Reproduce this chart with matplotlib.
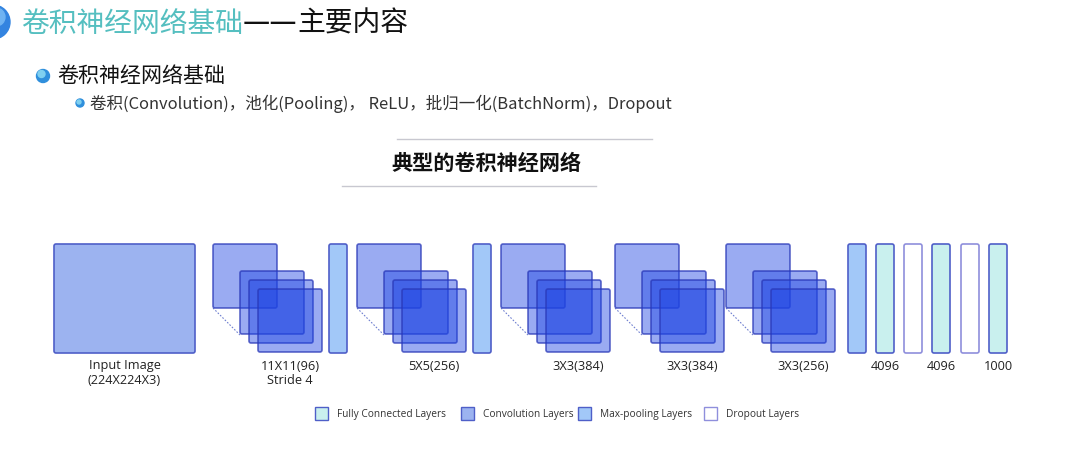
import matplotlib
matplotlib.use("Agg")
import matplotlib.pyplot as plt
from matplotlib.patches import FancyBboxPatch, Rectangle, Circle

plt.rcParams["font.family"] = ["Noto Sans CJK SC", "DejaVu Sans"]

# ---- texts ----
title_main = "卷积神经网络基础"
title_dash = "——"
title_rest = "主要内容"
bullet_1 = "卷积神经网络基础"
bullet_2 = "卷积(Convolution)，池化(Pooling)， ReLU，批归一化(BatchNorm)，Dropout"
subtitle = "典型的卷积神经网络"

# ---- network layers ----
layer_kinds = ["input", "conv", "pool", "conv", "pool", "conv", "conv", "conv",
               "pool", "fc", "dropout", "fc", "dropout", "fc"]
layer_labels = ["Input Image\n(224X224X3)", "11X11(96)\nStride 4", "", "5X5(256)", "",
                "3X3(384)", "3X3(384)", "3X3(256)", "", "4096", "", "4096", "", "1000"]

legend_kinds = ["fc", "conv", "pool", "dropout"]
legend_names = ["Fully Connected Layers", "Convolution Layers",
                "Max-pooling Layers", "Dropout Layers"]

# ---- styles ----
EDGE = "#4f5fc8"
styles = {
    "input": dict(fc="#9cb3f0", ec=EDGE),
    "conv": dict(fc=(0.12, 0.27, 0.89, 0.45), ec=(0.16, 0.22, 0.72, 0.75)),
    "pool": dict(fc="#a2c8f8", ec=EDGE),
    "fc": dict(fc="#c9f0ee", ec=EDGE),
    "dropout": dict(fc="white", ec="#8f8fdc"),
}
conv_offsets = [0, 27, 36, 45]

# layout (pixel space)
W, H = 1066, 466
layer_x = [54, 213, 329, 357, 473, 501, 615, 726, 848, 876, 904, 932, 961, 989]
top, bottom = 244, 353

fig = plt.figure(figsize=(W / 100, H / 100), dpi=100)
ax = fig.add_axes([0, 0, 1, 1])
ax.set_xlim(0, W)
ax.set_ylim(H, 0)
ax.axis("off")
inv = ax.transData.inverted()


def rbox(x, y, w, h, kind, z=2):
    st = styles[kind]
    ax.add_patch(FancyBboxPatch((x, y), w, h, boxstyle="round,pad=0,rounding_size=2",
                                facecolor=st["fc"], edgecolor=st["ec"], linewidth=1.2, zorder=z))


def right_edge(t):
    fig.canvas.draw()
    return t.get_window_extent().transformed(inv).x1


# header
ax.add_patch(Circle((-7, 22), 17, color="#3384e0", zorder=3))
ax.add_patch(Circle((-4, 17), 9, color="#6fb3f2", zorder=3))
t = ax.text(21, 24, title_main, fontsize=20, color="#55bfc0", va="center", ha="left")
t = ax.text(right_edge(t), 24, title_dash, fontsize=22, color="#111111", va="center", ha="left")
ax.text(right_edge(t), 24, title_rest, fontsize=20, color="#111111", va="center", ha="left")

ax.add_patch(Circle((43, 76), 6.5, color="#2f8fdc", zorder=3))
ax.add_patch(Circle((41.5, 74), 3.5, color="#7fd0f0", zorder=3))
ax.text(57, 76, bullet_1, fontsize=15.1, color="#111111", va="center", ha="left")

ax.add_patch(Circle((80, 103), 4, color="#2f8fdc", zorder=3))
ax.add_patch(Circle((79, 102), 2, color="#7fd0f0", zorder=3))
ax.text(90, 104, bullet_2, fontsize=11.9, color="#333333", va="center", ha="left")

ax.plot([397, 652], [139, 139], color="#c8c8d0", lw=1)
ax.text(486, 163, subtitle, fontsize=15.2, fontweight="bold", color="#111111",
        va="center", ha="center")
ax.plot([342, 596], [186, 186], color="#c8c8d0", lw=1)

# network diagram
for kind, label, x in zip(layer_kinds, layer_labels, layer_x):
    if kind == "input":
        w = 141
        rbox(x, top, w, bottom - top, kind)
        cx = x + w / 2
    elif kind == "conv":
        s = 64
        for i, off in enumerate(conv_offsets):
            rbox(x + off, top + off, s, s - (1 if i else 0), kind, z=2 + i)
        ax.plot([x, x + conv_offsets[1]], [top + s, top + s + conv_offsets[1]],
                color="#7080d0", lw=0.8, ls=(0, (1.5, 1.5)), zorder=1)
        cx = x + conv_offsets[-1] + s / 2
    else:
        w = 18
        rbox(x, top, w, bottom - top, kind)
        cx = x + w / 2
    for j, line in enumerate(label.split("\n")):
        if line:
            ax.text(cx, 366 + 14 * j, line, fontsize=9.2, color="#222222",
                    ha="center", va="center", family=["Open Sans", "DejaVu Sans"])

# legend
legend_x = [315, 461, 578, 704]
for kind, name, x in zip(legend_kinds, legend_names, legend_x):
    st = styles[kind]
    fcol = "#9cb3f0" if kind == "conv" else st["fc"]
    ax.add_patch(Rectangle((x, 407), 13, 13, facecolor=fcol, edgecolor=EDGE if kind != "dropout" else st["ec"],
                           linewidth=1))
    ax.text(x + 22, 414, name, fontsize=7.3, color="#333333", ha="left", va="center",
            family=["Open Sans", "DejaVu Sans"])

fig.savefig("out.png", dpi=100)
